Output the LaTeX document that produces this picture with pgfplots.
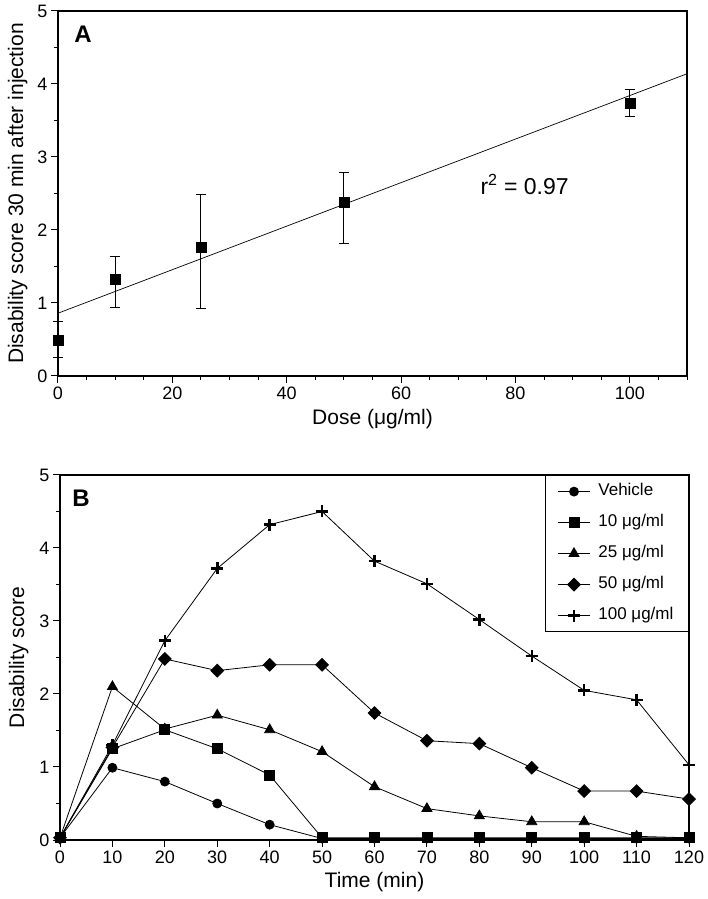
\documentclass[border=0pt]{standalone}
\usepackage{fontspec}
\setmainfont{Liberation Sans}
\usepackage{pgfplots}
\pgfplotsset{compat=1.18}

\pgfplotsset{
  panel/.style={
    scale only axis, width=629pt, height=365pt,
    ymin=0, ymax=5, ytick={0,...,5}, minor ytick={0.5,1.5,...,4.5},
    axis line style={line width=1.3pt},
    tick style={line width=1pt, black}, tick align=outside,
    major tick length=7pt, minor tick length=4pt,
    xtick pos=bottom, ytick pos=left,
    tick label style={font=\fontsize{18}{20}\selectfont},
    label style={font=\fontsize{21}{24}\selectfont},
    /pgf/number format/assume math mode=true,
    clip=false,
  },
  ser/.style={black, line width=0.8pt, mark options={solid, fill=black}},
}

\begin{document}
\begin{tikzpicture}
\path[use as bounding box] (0pt,0pt) rectangle (707pt,899pt);

% panel A
\begin{axis}[panel, at={(58pt,523pt)}, anchor=south west,
  xmin=0, xmax=110, xtick={0,20,...,100}, minor xtick={5,10,...,110},
  xlabel={Dose (μg/ml)}, ylabel={Disability score 30 min after injection},
  xlabel shift=3pt, ylabel shift=3pt]
 \addplot[black, line width=0.7pt] coordinates {(0,0.86) (110,4.14)};
 \addplot[black, only marks, mark=square*, mark size=5pt,
   error bars/.cd, y dir=both, y explicit,
   error bar style={line width=1pt},
   error mark options={rotate=90, mark size=5pt, line width=1pt}]
  coordinates {
   (0,0.49) += (0,0.25) -= (0,0.24)
   (10,1.33) += (0,0.31) -= (0,0.39)
   (25,1.77) += (0,0.71) -= (0,0.85)
   (50,2.38) += (0,0.41) -= (0,0.56)
   (100,3.74) += (0,0.18) -= (0,0.19)
  };
 \node[font=\bfseries\fontsize{24}{24}\selectfont] at (axis cs:4.4,4.68) {A};
 \node[font=\fontsize{23}{25}\selectfont] at (axis cs:81.6,2.62) {r\textsuperscript{2} = 0.97};
\end{axis}

% panel B
\begin{axis}[panel, at={(60pt,59pt)}, anchor=south west,
  xmin=0, xmax=120, xtick={0,10,...,120},
  xlabel={Time (min)}, ylabel={Disability score},
  xlabel shift=2pt, ylabel shift=4pt,
  legend style={at={(1,1)}, anchor=north east, draw=black, line width=1.2pt,
    font=\fontsize{17}{19}\selectfont, row sep=9pt, column sep=5pt,
    inner xsep=12pt, inner ysep=5pt,
    nodes={inner sep=3pt, text height=12pt, text depth=4pt}},
  legend cell align=left,
  legend image code/.code={\draw[mark repeat=2,mark phase=2] plot coordinates {(0pt,0pt) (16pt,0pt) (32pt,0pt)};}]
 \addplot[ser, mark=*, mark size=4.5pt] coordinates {
  (0,0.03) (10,0.99) (20,0.80) (30,0.50) (40,0.21) (50,0.02) (60,0.02) (70,0.02)
  (80,0.02) (90,0.02) (100,0.02) (110,0.02) (120,0.02)};
 \addlegendentry{Vehicle}
 \addplot[ser, mark=square*, mark size=5pt] coordinates {
  (0,0.03) (10,1.25) (20,1.51) (30,1.25) (40,0.89) (50,0.03) (60,0.03) (70,0.03)
  (80,0.03) (90,0.03) (100,0.03) (110,0.03) (120,0.03)};
 \addlegendentry{10 μg/ml}
 \addplot[ser, mark=triangle*, mark size=5.8pt] coordinates {
  (0,0.03) (10,2.10) (20,1.52) (30,1.71) (40,1.51) (50,1.21) (60,0.73) (70,0.43)
  (80,0.33) (90,0.25) (100,0.25) (110,0.05) (120,0.03)};
 \addlegendentry{25 μg/ml}
 \addplot[ser, mark=square*, mark size=4.5pt, mark options={rotate=45}] coordinates {
  (0,0.03) (10,1.27) (20,2.48) (30,2.32) (40,2.40) (50,2.40) (60,1.74) (70,1.36)
  (80,1.32) (90,0.99) (100,0.67) (110,0.67) (120,0.56)};
 \addlegendentry{50 μg/ml}
 \addplot[ser, mark=+, mark size=6pt, mark options={line width=2.5pt}] coordinates {
  (0,0.03) (10,1.30) (20,2.73) (30,3.72) (40,4.32) (50,4.50) (60,3.82) (70,3.51)
  (80,3.02) (90,2.52) (100,2.05) (110,1.92) (120,1.03)};
 \addlegendentry{100 μg/ml}
 \node[font=\bfseries\fontsize{24}{24}\selectfont] at (axis cs:4,4.68) {B};
\end{axis}
\end{tikzpicture}
\end{document}
